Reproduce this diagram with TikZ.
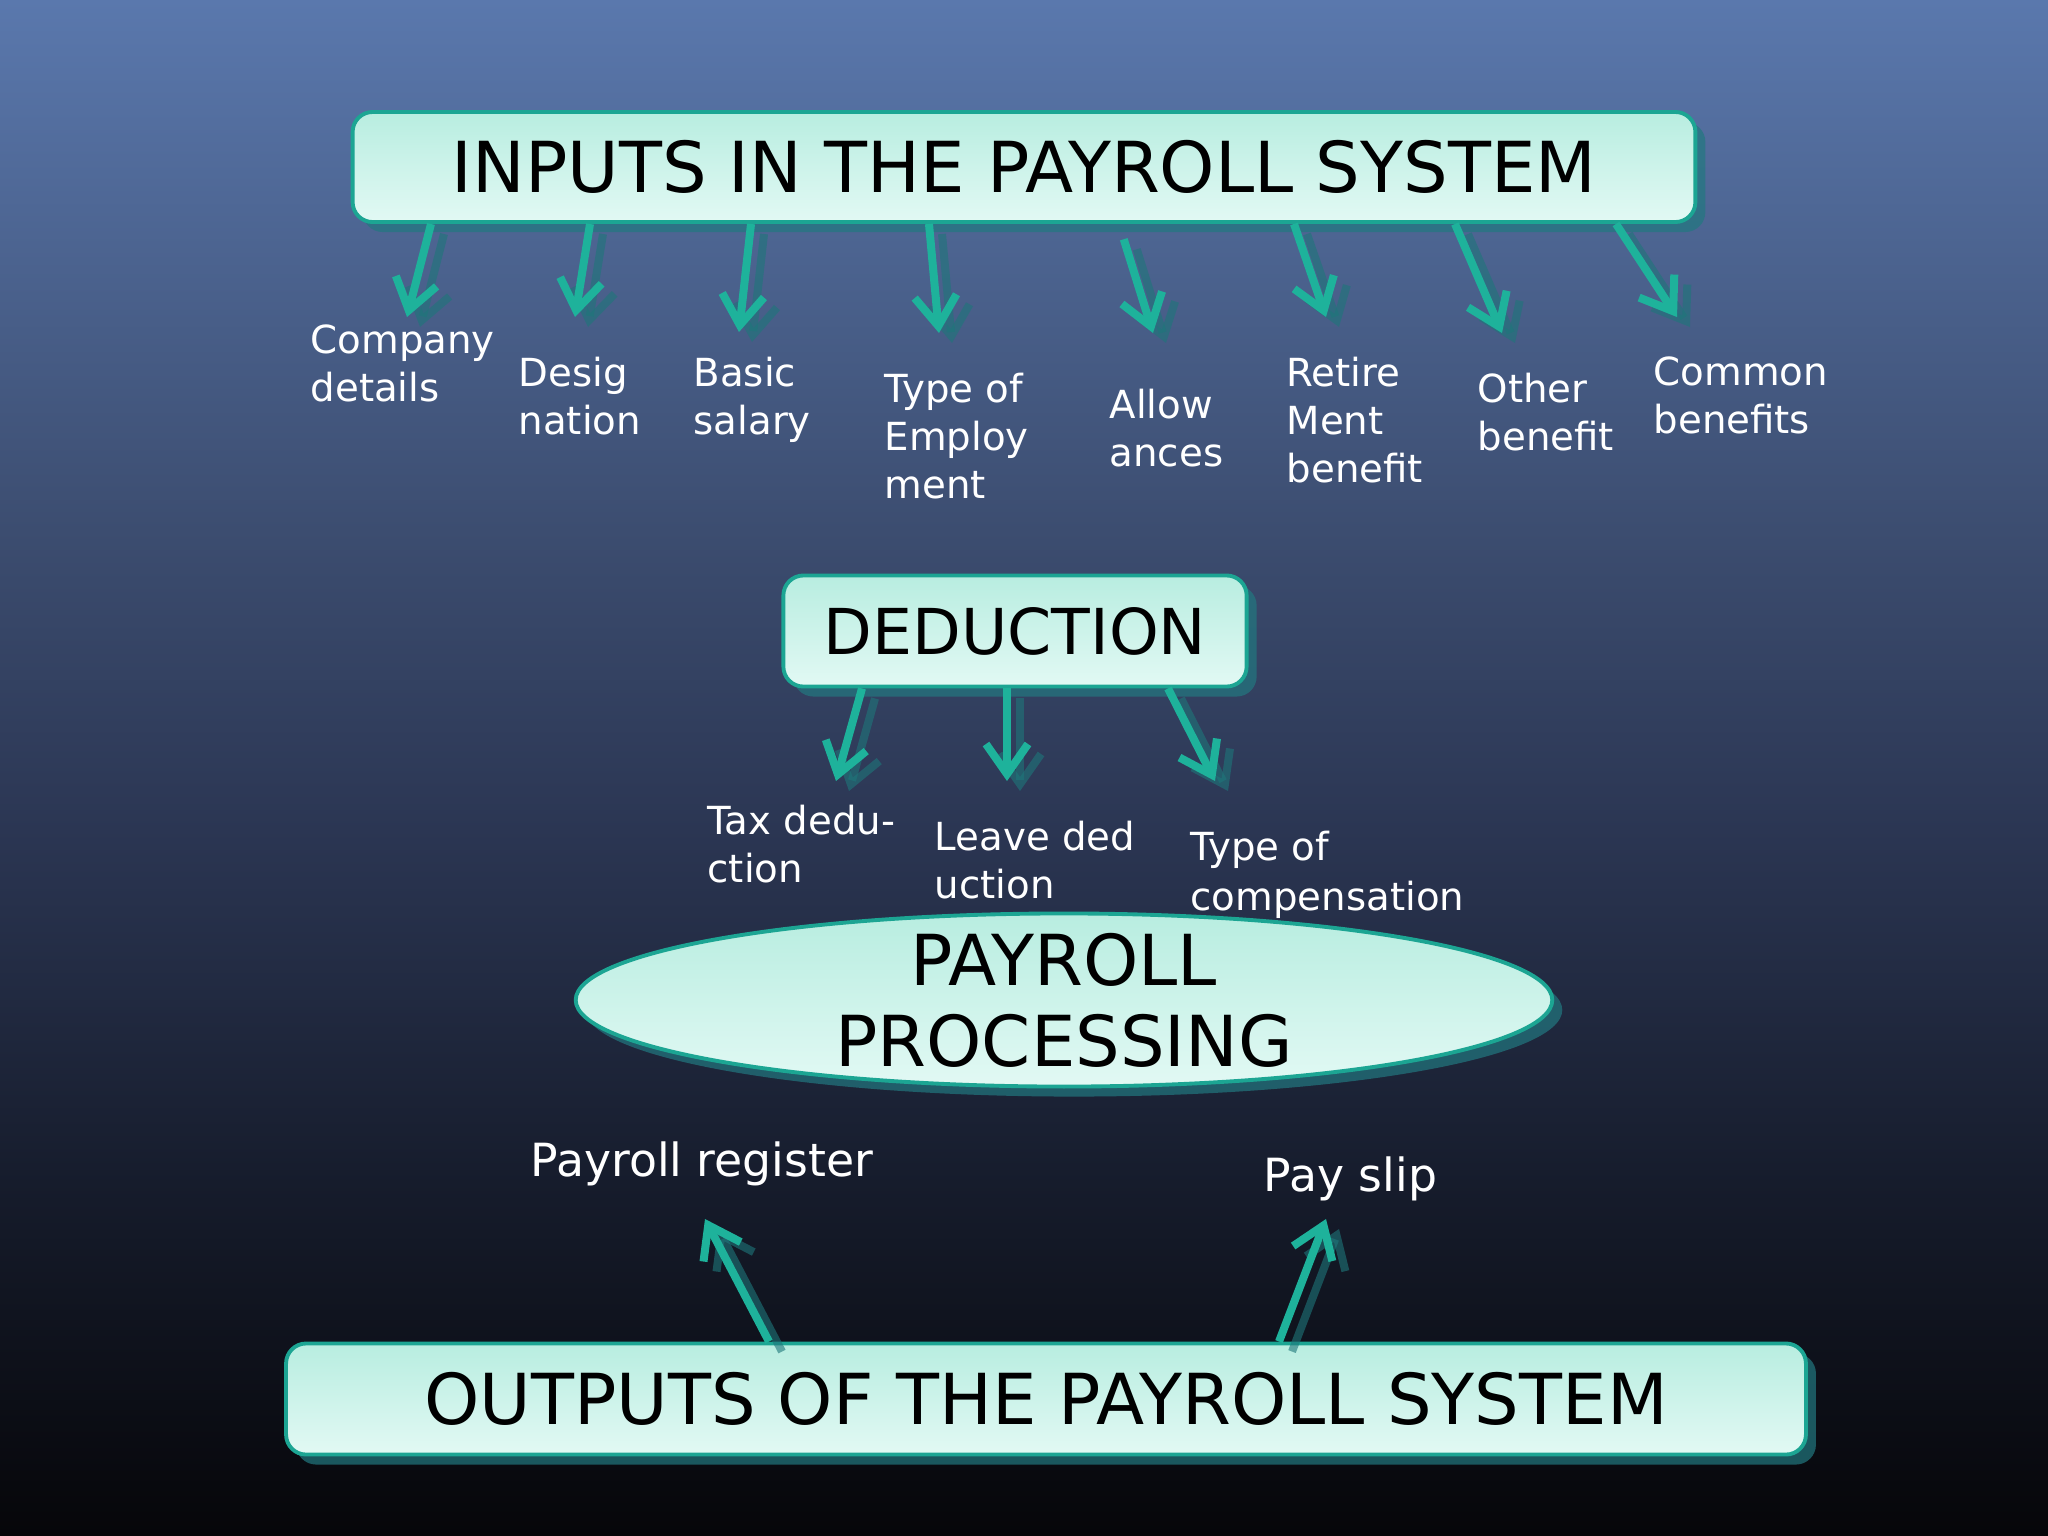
\documentclass[tikz,border=0pt]{standalone}
\usepackage{fontspec}
\setmainfont{DejaVu Sans}
\usetikzlibrary{positioning,shapes.geometric,arrows.meta,shadows}
\definecolor{bgtop}{RGB}{90,120,173}
\definecolor{bgmid}{RGB}{60,77,112}
\definecolor{bglow}{RGB}{43,54,83}
\definecolor{bgdark}{RGB}{22,28,44}
\definecolor{bgbot}{RGB}{6,6,9}
\definecolor{boxtop}{RGB}{184,237,224}
\definecolor{boxbot}{RGB}{226,249,244}
\definecolor{boxline}{RGB}{28,165,147}
\definecolor{boxshadow}{RGB}{34,120,128}
\definecolor{arrcol}{RGB}{30,178,155}
\definecolor{arrshadow}{RGB}{30,118,122}
\pgfdeclareverticalshading{bgshade}{100bp}{color(0bp)=(bgbot); color(25bp)=(bgbot);
  color(36.5bp)=(bgdark); color(48bp)=(bglow); color(57.75bp)=(bgmid);
  color(75bp)=(bgtop); color(100bp)=(bgtop)}

\begin{document}
\begin{tikzpicture}[x=0.01cm, y=-0.01cm,
        box/.style={rectangle, rounded corners=0.2cm, draw=boxline, line width=1.1pt,
                    top color=boxtop, bottom color=boxbot, text=black,
                    font=\fontsize{20}{24}\selectfont,
                    drop shadow={shadow xshift=0.1cm, shadow yshift=-0.1cm,
                                 fill=boxshadow, opacity=0.7}},
        proc/.style={box, ellipse, inner sep=0pt, minimum width=9.76cm, minimum height=1.73cm},
        lbl/.style={anchor=north west, align=left, text=white, inner sep=0pt,
                    font=\fontsize{11}{13.7}\selectfont},
        outlbl/.style={lbl, font=\fontsize{13}{15}\selectfont},
        arr/.style={-{Straight Barb[length=0.3cm, width=0.42cm]}, line width=0.08cm, draw=arrcol,
                    preaction={draw=arrshadow, line width=0.08cm, draw opacity=0.6,
                               transform canvas={shift={(0.13cm,-0.1cm)}}}}
      ]
        \useasboundingbox (0,0) rectangle (2048,1536);
        \shade[shading=bgshade] (0,0) rectangle (2048,1536);

        % main boxes
        \node[box, minimum width=13.42cm, minimum height=1.10cm] (inp) at (1024,167)
              {INPUTS IN THE PAYROLL SYSTEM};
        \node[box, minimum width=4.63cm, minimum height=1.11cm, font=\fontsize{18}{22}\selectfont]
              (ded) at (1015,631) {DEDUCTION};
        \node[proc, label={[align=center, text=black, font=\fontsize{20}{23}\selectfont]center:PAYROLL\\PROCESSING}]
              (proc) at (1064,1000) {};
        \node[box, minimum width=15.19cm, minimum height=1.11cm] (out) at (1046,1399)
              {OUTPUTS OF THE PAYROLL SYSTEM};

        % inputs
        \node[lbl] (company) at (310,324) {Company\\details};
        \node[lbl] (desig) at (518,356) {Desig\\nation};
        \node[lbl] (basic) at (693,356) {Basic\\salary};
        \node[lbl] (employ) at (884,372) {Type of\\Employ\\ment};
        \node[lbl] (allow) at (1109,388) {Allow\\ances};
        \node[lbl] (retire) at (1286,356) {Retire\\Ment\\benefit};
        \node[lbl] (other) at (1477,372) {Other\\benefit};
        \node[lbl] (common) at (1653,356) {Common\\benefits};

        % deductions
        \node[lbl] (tax) at (707,804) {Tax dedu-\\ction};
        \node[lbl] (leave) at (934,820) {Leave ded\\uction};
        \node[lbl, font=\fontsize{11}{14.4}\selectfont] (compens) at (1190,830) {Type of\\compensation};

        % outputs
        \node[outlbl] (register) at (530,1141) {Payroll register};
        \node[outlbl] (slip) at (1263,1156) {Pay slip};

        % arrow tips
        \coordinate (i1) at (407,317); \coordinate (i2) at (575,317);
        \coordinate (i3) at (739,332); \coordinate (i4) at (939,333);
        \coordinate (i5) at (1153,333); \coordinate (i6) at (1326,317);
        \coordinate (i7) at (1502,333); \coordinate (i8) at (1677,317);
        \coordinate (d1) at (836,781); \coordinate (d2) at (1007,781);
        \coordinate (d3) at (1215,781);
        \coordinate (o1) at (705,1219); \coordinate (o2) at (1326,1219);

        \draw[arr] (inp.south -| 431,0) -- (i1); \draw[arr] (inp.south -| 590,0) -- (i2);
        \draw[arr] (inp.south -| 751,0) -- (i3); \draw[arr] (inp.south -| 929,0) -- (i4);
        \draw[arr, shorten <=0.16cm] (inp.south -| 1119,0) -- (i5);
        \draw[arr] (inp.south -| 1294,0) -- (i6);
        \draw[arr] (inp.south -| 1455,0) -- (i7); \draw[arr] (inp.south -| 1616,0) -- (i8);

        \draw[arr] (ded.south -| 862,0) -- (d1); \draw[arr] (ded.south -| 1007,0) -- (d2);
        \draw[arr] (ded.south -| 1168,0) -- (d3);

        \draw[arr] (out.north -| 769,0) -- (o1); \draw[arr] (out.north -| 1279,0) -- (o2);
      \end{tikzpicture}
\end{document}
